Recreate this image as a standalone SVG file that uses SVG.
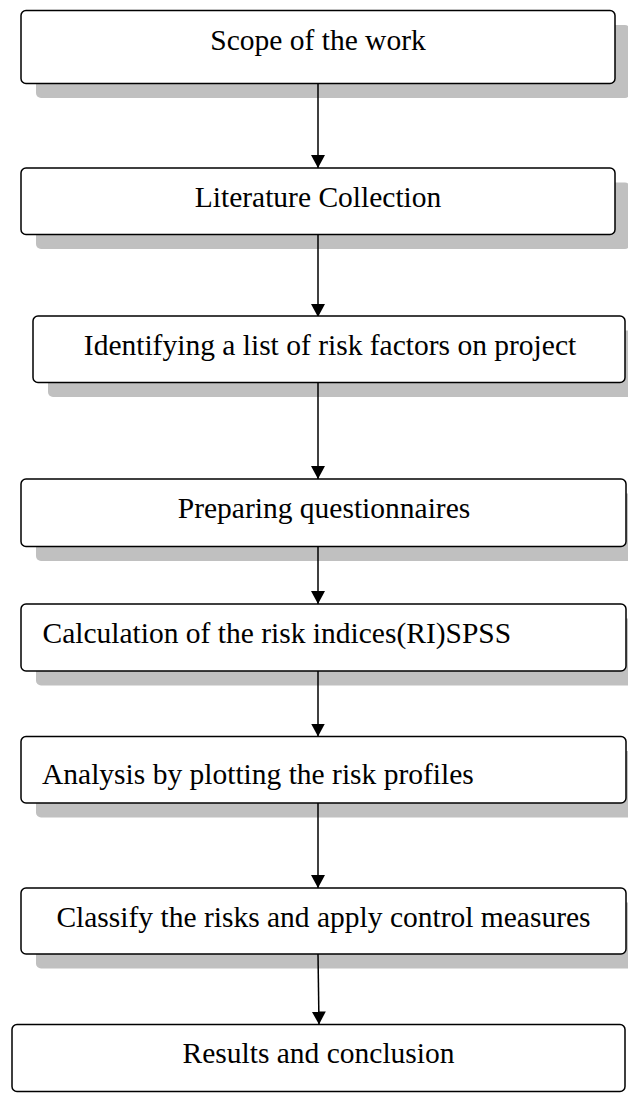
<svg xmlns="http://www.w3.org/2000/svg" width="628" height="1093" viewBox="0 0 628 1093">
<style>
.box{fill:#ffffff;stroke:#000000;stroke-width:1.5}
.shadow{fill:#c0c0c0;stroke:none}
.t{font-family:"Liberation Serif","Times New Roman",serif;font-size:29.5px;fill:#000000}
.c{text-anchor:middle}
.conn{stroke:#000000;stroke-width:1.5;fill:none}
</style>
<defs>
<marker id="ah" markerUnits="userSpaceOnUse" markerWidth="14" markerHeight="14" refX="13" refY="7" orient="auto">
<path d="M0,0 L13,7 L0,14 Z" fill="#000000"/>
</marker>
</defs>
<rect width="628" height="1093" fill="#ffffff"/>
<g id="shadows">
<rect class="shadow" x="36" y="25" width="594" height="73" rx="5"/>
<rect class="shadow" x="36" y="182.5" width="594" height="66.5" rx="5"/>
<rect class="shadow" x="48" y="330.5" width="592" height="66.5" rx="5"/>
<rect class="shadow" x="36" y="493.5" width="605" height="67.5" rx="5"/>
<rect class="shadow" x="36" y="618.5" width="605" height="67" rx="5"/>
<rect class="shadow" x="36" y="751" width="605" height="66.5" rx="5"/>
<rect class="shadow" x="36" y="902.5" width="605" height="66" rx="5"/>
</g>
<g id="connectors">
<line class="conn" x1="318" y1="83.5" x2="318" y2="168" marker-end="url(#ah)"/>
<line class="conn" x1="318" y1="234.5" x2="318" y2="317" marker-end="url(#ah)"/>
<line class="conn" x1="318" y1="382.5" x2="318" y2="479" marker-end="url(#ah)"/>
<line class="conn" x1="318" y1="546.5" x2="318" y2="604" marker-end="url(#ah)"/>
<line class="conn" x1="318" y1="671" x2="318" y2="736.5" marker-end="url(#ah)"/>
<line class="conn" x1="318" y1="803" x2="318" y2="888" marker-end="url(#ah)"/>
<line class="conn" x1="318" y1="954" x2="319" y2="1024.5" marker-end="url(#ah)"/>
</g>
<g id="n1">
<rect class="box" x="21" y="10.5" width="594" height="73" rx="5"/>
<text class="t c" x="318" y="50">Scope of the work</text>
</g>
<g id="n2">
<rect class="box" x="21" y="168" width="594" height="66.5" rx="5"/>
<text class="t c" x="318" y="207">Literature Collection</text>
</g>
<g id="n3">
<rect class="box" x="33" y="316" width="592" height="66.5" rx="5"/>
<text class="t c" x="330" y="355">Identifying a list of risk factors on project</text>
</g>
<g id="n4">
<rect class="box" x="21" y="479" width="605" height="67.5" rx="5"/>
<text class="t c" x="324" y="518">Preparing questionnaires</text>
</g>
<g id="n5">
<rect class="box" x="21" y="604" width="605" height="67" rx="5"/>
<text class="t" x="42.5" y="643">Calculation of the risk indices(RI)SPSS</text>
</g>
<g id="n6">
<rect class="box" x="21" y="736.5" width="605" height="66.5" rx="5"/>
<text class="t" x="42" y="784">Analysis by plotting the risk profiles</text>
</g>
<g id="n7">
<rect class="box" x="21" y="888" width="605" height="66" rx="5"/>
<text class="t c" x="323.5" y="927">Classify the risks and apply control measures</text>
</g>
<g id="n8">
<rect class="box" x="12" y="1024.5" width="613" height="67" rx="5"/>
<text class="t c" x="318.5" y="1063">Results and conclusion</text>
</g>
</svg>
